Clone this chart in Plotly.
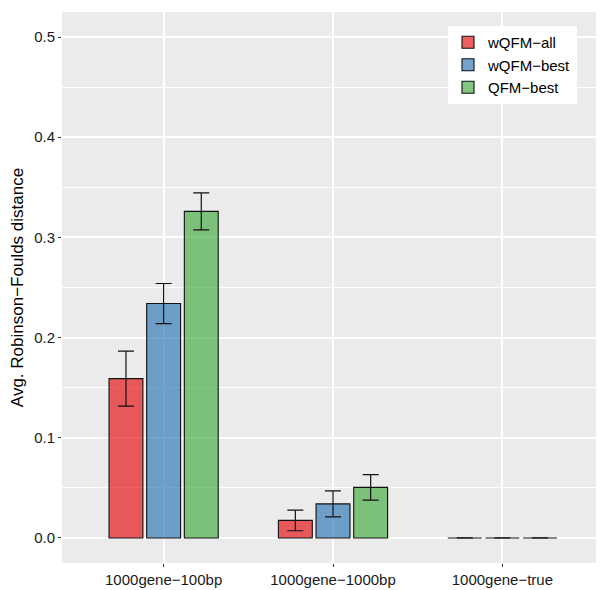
import plotly.graph_objects as go

categories = ["1000gene−100bp", "1000gene−1000bp", "1000gene−true"]
series_names = ["wQFM−all", "wQFM−best", "QFM−best"]
values = {
    "wQFM−all": [0.159, 0.0175, 0.0],
    "wQFM−best": [0.234, 0.034, 0.0],
    "QFM−best": [0.326, 0.0505, 0.0],
}
errors = {
    "wQFM−all": [0.0275, 0.0103, 0.0],
    "wQFM−best": [0.020, 0.013, 0.0],
    "QFM−best": [0.0185, 0.0127, 0.0],
}
colors = {
    "wQFM−all": "rgba(228,26,28,0.7)",
    "wQFM−best": "rgba(55,126,184,0.7)",
    "QFM−best": "rgba(77,175,74,0.7)",
}
y_ticks = [0.0, 0.1, 0.2, 0.3, 0.4, 0.5]
y_ticklabels = ["0.0", "0.1", "0.2", "0.3", "0.4", "0.5"]

FONT = "Liberation Sans, Arial, sans-serif"

# page body has an 8px margin, so the figure is sized/offset accordingly
W, H = 596, 582
L, T, B, R = 54, 4, 27, 0
pw = W - L - R
ph = H - T - B

fig = go.Figure()
for name in series_names:
    fig.add_trace(go.Bar(
        x=categories,
        y=values[name],
        name=name,
        marker=dict(color=colors[name], line=dict(color="#111111", width=1.1)),
        error_y=dict(type="data", array=errors[name], visible=True,
                     color="#111111", thickness=1.2, width=8),
    ))

fig.update_layout(
    width=W, height=H,
    margin=dict(l=L, r=R, t=T, b=B, pad=0),
    paper_bgcolor="white",
    plot_bgcolor="#EBEBEB",
    barmode="group",
    bargap=0.333,
    bargroupgap=0.1,
    font=dict(family=FONT, size=15, color="#000000"),
    showlegend=True,
    legend=dict(
        x=(440 - L) / pw, y=1 - (18 - T) / ph,
        xanchor="left", yanchor="top",
        bgcolor="white",
        font=dict(size=15, color="#000000", family=FONT),
        tracegroupgap=0,
        itemwidth=30,
    ),
)
fig.update_xaxes(
    type="category",
    range=[-0.6, 2.6],
    showgrid=True, gridcolor="white", gridwidth=1.6,
    ticks="outside", ticklen=3, tickcolor="#333333", tickwidth=1,
    tickfont=dict(size=15, color="#1a1a1a", family=FONT),
    zeroline=False, showline=False, automargin=False,
)
fig.update_yaxes(
    range=[-0.025, 0.525],
    tickvals=y_ticks, ticktext=y_ticklabels,
    showgrid=True, gridcolor="white", gridwidth=1.6,
    minor=dict(dtick=0.05, tick0=0.05, showgrid=True, gridcolor="white", gridwidth=0.8, ticks=""),
    ticks="outside", ticklen=3, tickcolor="#333333", tickwidth=1,
    tickfont=dict(size=15, color="#1a1a1a", family=FONT),
    zeroline=False, showline=False, automargin=False,
    title=dict(text="Avg. Robinson−Foulds distance", font=dict(size=17, color="#000000", family=FONT), standoff=6),
)

fig.write_html("out.html")
